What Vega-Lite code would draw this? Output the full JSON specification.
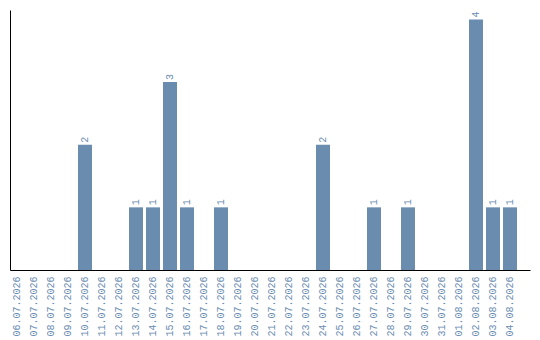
{
  "$schema": "https://vega.github.io/schema/vega-lite/v6.json",
  "width": 520,
  "height": 260,
  "autosize": {"type": "none"},
  "padding": {"left": 10, "top": 10, "right": 10, "bottom": 70},
  "background": "white",
  "config": {
    "view": {"stroke": null},
    "font": "Liberation Mono"
  },
  "data": {
    "values": [
      {"date": "06.07.2026", "count": 0},
      {"date": "07.07.2026", "count": 0},
      {"date": "08.07.2026", "count": 0},
      {"date": "09.07.2026", "count": 0},
      {"date": "10.07.2026", "count": 2},
      {"date": "11.07.2026", "count": 0},
      {"date": "12.07.2026", "count": 0},
      {"date": "13.07.2026", "count": 1},
      {"date": "14.07.2026", "count": 1},
      {"date": "15.07.2026", "count": 3},
      {"date": "16.07.2026", "count": 1},
      {"date": "17.07.2026", "count": 0},
      {"date": "18.07.2026", "count": 1},
      {"date": "19.07.2026", "count": 0},
      {"date": "20.07.2026", "count": 0},
      {"date": "21.07.2026", "count": 0},
      {"date": "22.07.2026", "count": 0},
      {"date": "23.07.2026", "count": 0},
      {"date": "24.07.2026", "count": 2},
      {"date": "25.07.2026", "count": 0},
      {"date": "26.07.2026", "count": 0},
      {"date": "27.07.2026", "count": 1},
      {"date": "28.07.2026", "count": 0},
      {"date": "29.07.2026", "count": 1},
      {"date": "30.07.2026", "count": 0},
      {"date": "31.07.2026", "count": 0},
      {"date": "01.08.2026", "count": 0},
      {"date": "02.08.2026", "count": 4},
      {"date": "03.08.2026", "count": 1},
      {"date": "04.08.2026", "count": 1}
    ]
  },
  "encoding": {
    "x": {
      "field": "date",
      "type": "ordinal",
      "sort": null,
      "scale": {"paddingInner": 0.176, "paddingOuter": 0.382, "align": 0},
      "axis": {
        "title": null,
        "domainColor": "#000000",
        "domainWidth": 1,
        "ticks": false,
        "labelAngle": 270,
        "labelAlign": "right",
        "labelBaseline": "middle",
        "labelPadding": 6,
        "labelFont": "Liberation Mono",
        "labelFontSize": 10,
        "labelColor": "#6a8caf",
        "grid": false
      }
    },
    "y": {
      "field": "count",
      "type": "quantitative",
      "scale": {"domain": [0, 4.15], "nice": false},
      "axis": {
        "title": null,
        "domainColor": "#000000",
        "domainWidth": 1,
        "ticks": false,
        "labels": false,
        "grid": false
      }
    }
  },
  "layer": [
    {
      "mark": {"type": "bar", "color": "#6a8caf"}
    },
    {
      "transform": [{"filter": "datum.count > 0"}],
      "mark": {
        "type": "text",
        "angle": 270,
        "align": "left",
        "baseline": "middle",
        "dx": 2,
        "font": "Liberation Mono",
        "fontSize": 10,
        "color": "#6a8caf"
      },
      "encoding": {
        "text": {"field": "count", "type": "quantitative"}
      }
    }
  ]
}
